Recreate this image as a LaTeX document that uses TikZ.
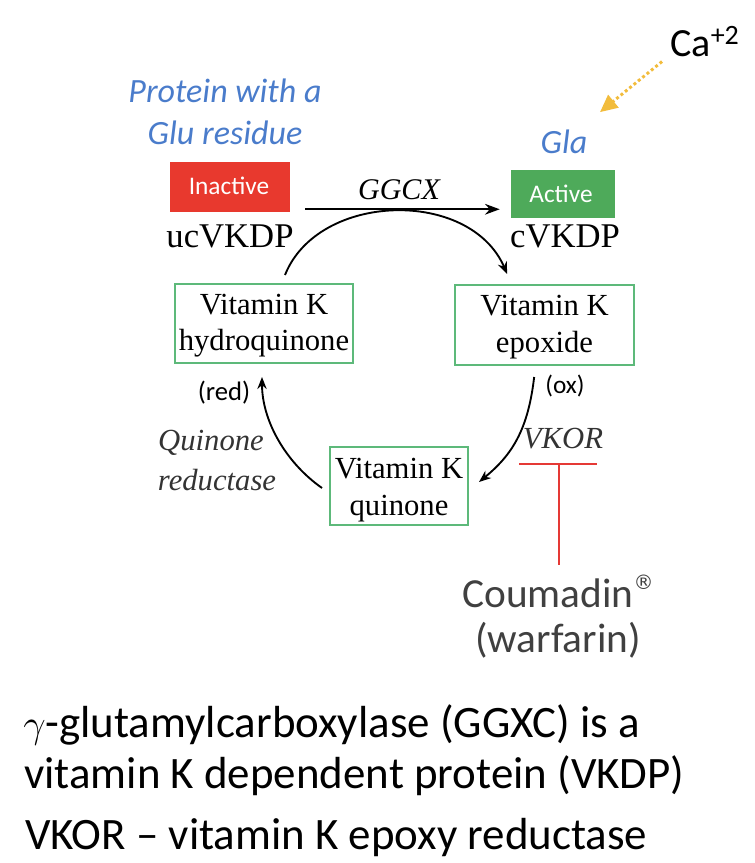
\documentclass[tikz,border=0pt]{standalone}
\usepackage{fontspec}
\setmainfont{Carlito}
\newfontfamily\serifk{Liberation Serif}
\newfontfamily\symf{DejaVu Sans}
\usetikzlibrary{arrows.meta,calc}
\definecolor{lblue}{HTML}{4A7CCB}
\definecolor{boxgreen}{HTML}{5DB97A}
\definecolor{actgreen}{HTML}{4EAA5A}
\definecolor{inred}{HTML}{E8392E}
\definecolor{barred}{HTML}{E53935}
\definecolor{caorange}{HTML}{F2BC3C}
\definecolor{dgray}{HTML}{404040}
\begin{document}
\begin{tikzpicture}[x=0.75pt,y=-0.75pt,
  lbl/.style={anchor=base,inner sep=0pt},
  bluelbl/.style={lbl,text=lblue,font=\fontsize{25.5}{30}\selectfont\itshape},
  vkbox/.style={draw=boxgreen,line width=1.5pt,inner sep=0pt},
  boxtext/.style={lbl,font=\serifk\fontsize{23}{28}\selectfont},
  tag/.style={fill=#1,text=white,inner sep=0pt},
  cyc/.style={line width=1.4pt,-{Stealth[length=9pt,width=7pt]}},
  bottomtext/.style={lbl,anchor=base west,font=\fontsize{33.7}{40}\selectfont}]
\useasboundingbox (0,0) rectangle (755,863);
% top labels
\node[bluelbl] (prot1) at (225,103) {Protein with a};
\node[bluelbl] (prot2) at (225,145) {Glu residue};
\node[bluelbl] (gla) at (564,153) {Gla};
\node[lbl,anchor=base west,font=\fontsize{30}{36}\selectfont] (ca) at (670,57) {Ca\textsuperscript{+2}};
% tags
\node[tag=inred,minimum width=90pt,minimum height=37.5pt] (inact) at (230,187) {};
\node[lbl,text=white,font=\fontsize{19}{23}\selectfont] (inacttxt) at (229,195) {Inactive};
\node[tag=actgreen,minimum width=78pt,minimum height=36pt] (act) at (563,194) {};
\node[lbl,text=white,font=\fontsize{19}{23}\selectfont] (acttxt) at (561,202) {Active};
% serif labels
\node[lbl,font=\serifk\fontsize{22.5}{27}\selectfont\itshape] (ggcx) at (399,199) {GGCX};
\node[lbl,font=\serifk\fontsize{26}{31}\selectfont] (uc) at (230,247) {ucVKDP};
\node[lbl,font=\serifk\fontsize{26}{31}\selectfont] (cv) at (565,247) {cVKDP};
% boxes
\node[vkbox,minimum width=133.5pt,minimum height=59.25pt] (hq) at (264,323.5) {};
\node[boxtext] (hq1) at (264,314) {Vitamin K};
\node[boxtext] (hq2) at (264,350) {hydroquinone};
\node[vkbox,minimum width=134pt,minimum height=60pt] (ep) at (544.5,325) {};
\node[boxtext] (ep1) at (544.5,315) {Vitamin K};
\node[boxtext] (ep2) at (544.5,352) {epoxide};
\node[vkbox,minimum width=103.5pt,minimum height=58.5pt] (qn) at (399,486) {};
\node[boxtext] (qn1) at (399,478) {Vitamin K};
\node[boxtext] (qn2) at (399,515) {quinone};
% small labels
\node[lbl,font=\fontsize{20}{24}\selectfont] (red) at (224,400) {(red)};
\node[lbl,font=\fontsize{19}{23}\selectfont] (ox) at (565,393) {(ox)};
\node[lbl,text=black!80,font=\serifk\fontsize{23}{28}\selectfont\itshape] (qr1) at (211,450) {Quinone};
\node[lbl,text=black!80,font=\serifk\fontsize{23}{28}\selectfont\itshape] (qr2) at (217,490) {reductase};
\node[lbl,text=black!80,font=\serifk\fontsize{23}{28}\selectfont\itshape] (vkor) at (563,448) {VKOR};
% coumadin
\node[lbl,text=dgray,font=\fontsize{31}{36}\selectfont] (cou) at (558,607) {Coumadin\raisebox{0.42em}{\symf\fontsize{15}{15}\selectfont ®}};
\node[lbl,text=dgray,font=\fontsize{31}{36}\selectfont] (war) at (558,652) {(warfarin)};
% bottom text
\node[bottomtext] (b1) at (23,737) {\scalebox{1.2}{$\gamma$}-glutamylcarboxylase (GGXC) is a};
\node[bottomtext] (b2) at (24,788) {vitamin K dependent protein (VKDP)};
\node[bottomtext] (b3) at (25,849) {VKOR – vitamin K epoxy reductase};
% connectors
\draw[line width=1.8pt,-{Stealth[length=11pt,width=8pt]}] ($(inact.south east)+(15,-3)$) -- ($(act.south west)+(-11,-9)$);
\draw[cyc] ($(hq.north)+(21,-8)$) .. controls (318,192) and (470,188) .. ($(ep.north west)+(53,-10)$);
\draw[cyc] ($(ep.south west)+(80,11)$) .. controls (528,430) and (512,455) .. ($(qn.east)+(10,-4)$);
\draw[cyc] ($(qn.west)+(-7,2)$) .. controls (285,462) and (262,420) .. ($(hq.south)+(-2,13)$);
% inhibition
\coordinate (barL) at (519,464);
\coordinate (barR) at (597,464);
\coordinate (barM) at (559,464);
\draw[barred,line width=1.6pt] (barL) -- (barR);
\draw[barred,line width=1.6pt] (barM) -- ($(cou.base)+(1,-42)$);
% calcium arrow
\draw[caorange,line width=2.2pt,dotted,-{Triangle[length=13pt,width=12pt]}] ($(ca.south west)+(-8,4)$) -- ($(gla.north)+(36,-17)$);
\end{tikzpicture}
\end{document}
